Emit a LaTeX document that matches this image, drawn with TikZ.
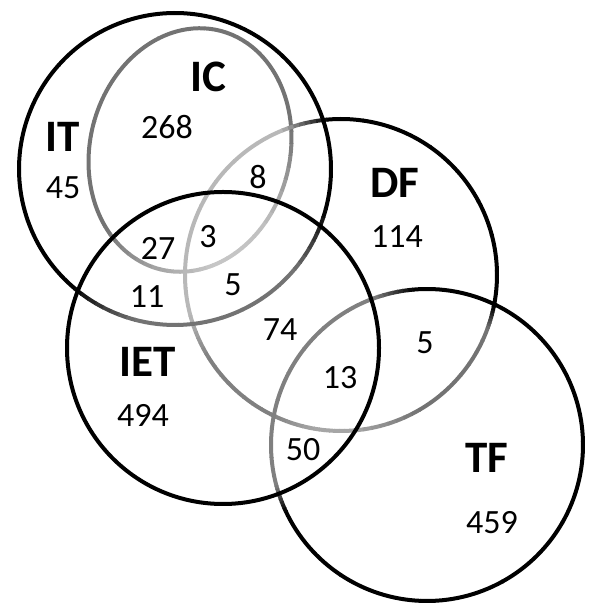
\documentclass[tikz,border=0pt]{standalone}
\usepackage{fontspec}
\setmainfont{Carlito}
\usetikzlibrary{calc}
\def\shadearc(#1)(#2 and #3)(#4:#5)(#6:#7){%
	\foreach \k in {0,...,7}{%
		\pgfmathsetmacro\ta{#4+(#5-#4)*\k/8}%
		\pgfmathsetmacro\tb{#4+(#5-#4)*(\k+1)/8+0.3}%
		\pgfmathsetmacro\cc{#6+(#7-#6)*(\k+0.5)/8}%
		\draw[line width=4pt, color=black!\cc] ($(#1)+(\ta:#2pt and #3pt)$) arc[start angle=\ta, end angle=\tb, x radius=#2pt, y radius=#3pt];
	}%
}

\begin{document}
\begin{tikzpicture}[x=1pt, y=1pt,
		lbl/.style={inner sep=0pt, font=\fontsize{45}{50}\selectfont\bfseries},
		num/.style={inner sep=0pt, font=\fontsize{34}{40}\selectfont}]
			%%%%% START %%%%%
			
			\useasboundingbox (0,0) rectangle (600,612);
			
			% IC (ellipse inside IT)
			\begin{scope}[shift={(190,462)}, rotate=-14]
			\shadearc(0,0)(100 and 123)(20:230)(55:55)
			\shadearc(0,0)(100 and 123)(230:270)(55:35)
			\shadearc(0,0)(100 and 123)(270:300)(35:22)
			\shadearc(0,0)(100 and 123)(300:335)(22:25)
			\shadearc(0,0)(100 and 123)(335:380)(25:55)
			\end{scope}
			
			% DF
			\shadearc(341,337)(156 and 156)(-12:95)(100:100)
			\shadearc(341,337)(156 and 156)(95:112)(100:30)
			\shadearc(341,337)(156 and 156)(112:195)(28:28)
			\shadearc(341,337)(156 and 156)(195:212)(28:50)
			\shadearc(341,337)(156 and 156)(212:243)(50:50)
			\shadearc(341,337)(156 and 156)(243:260)(50:35)
			\shadearc(341,337)(156 and 156)(260:275)(35:35)
			\shadearc(341,337)(156 and 156)(275:300)(35:55)
			\shadearc(341,337)(156 and 156)(300:340)(55:55)
			\shadearc(341,337)(156 and 156)(340:348)(55:100)
			
			% IT
			\shadearc(175,443)(156 and 156)(-15:230)(100:100)
			\shadearc(175,443)(156 and 156)(230:255)(100:55)
			\shadearc(175,443)(156 and 156)(255:320)(55:55)
			\shadearc(175,443)(156 and 156)(320:345)(55:100)
			
			% TF
			\shadearc(427,167)(156 and 156)(-155:95)(100:100)
			\shadearc(427,167)(156 and 156)(95:110)(100:50)
			\shadearc(427,167)(156 and 156)(110:195)(50:50)
			\shadearc(427,167)(156 and 156)(195:205)(50:100)
			
			% IET
			\draw[line width=4pt] (223,264) circle[radius=156pt];
			
			\node[lbl] (labIT) at (63,475) {IT};
			\node[num] (nIT) at (63,424) {45};
			\node[lbl] (labIC) at (208,535) {IC};
			\node[num] (nIC) at (167,485) {268};
			\node[num] (nICDF) at (258,435) {8};
			\node[num] (nICIET) at (158,364) {27};
			\node[num] (nICDFIET) at (208,375) {3};
			\node[num] (nITIET) at (147,315) {11};
			\node[num] (nITDFIET) at (233,327) {5};
			\node[num] (nDFIET) at (280,282) {74};
			\node[num] (nDFIETTF) at (340,234) {13};
			\node[num] (nDFTF) at (425,269) {5};
			\node[lbl] (labDF) at (395,429) {DF};
			\node[num] (nDF) at (397,375) {114};
			\node[lbl] (labIET) at (148,250) {IET};
			\node[num] (nIET) at (143,197) {494};
			\node[num] (nIETTF) at (303,162) {50};
			\node[lbl] (labTF) at (487,154) {TF};
			\node[num] (nTF) at (492,89) {459};
			
			%%%%% END %%%%%
\end{tikzpicture}
\end{document}
